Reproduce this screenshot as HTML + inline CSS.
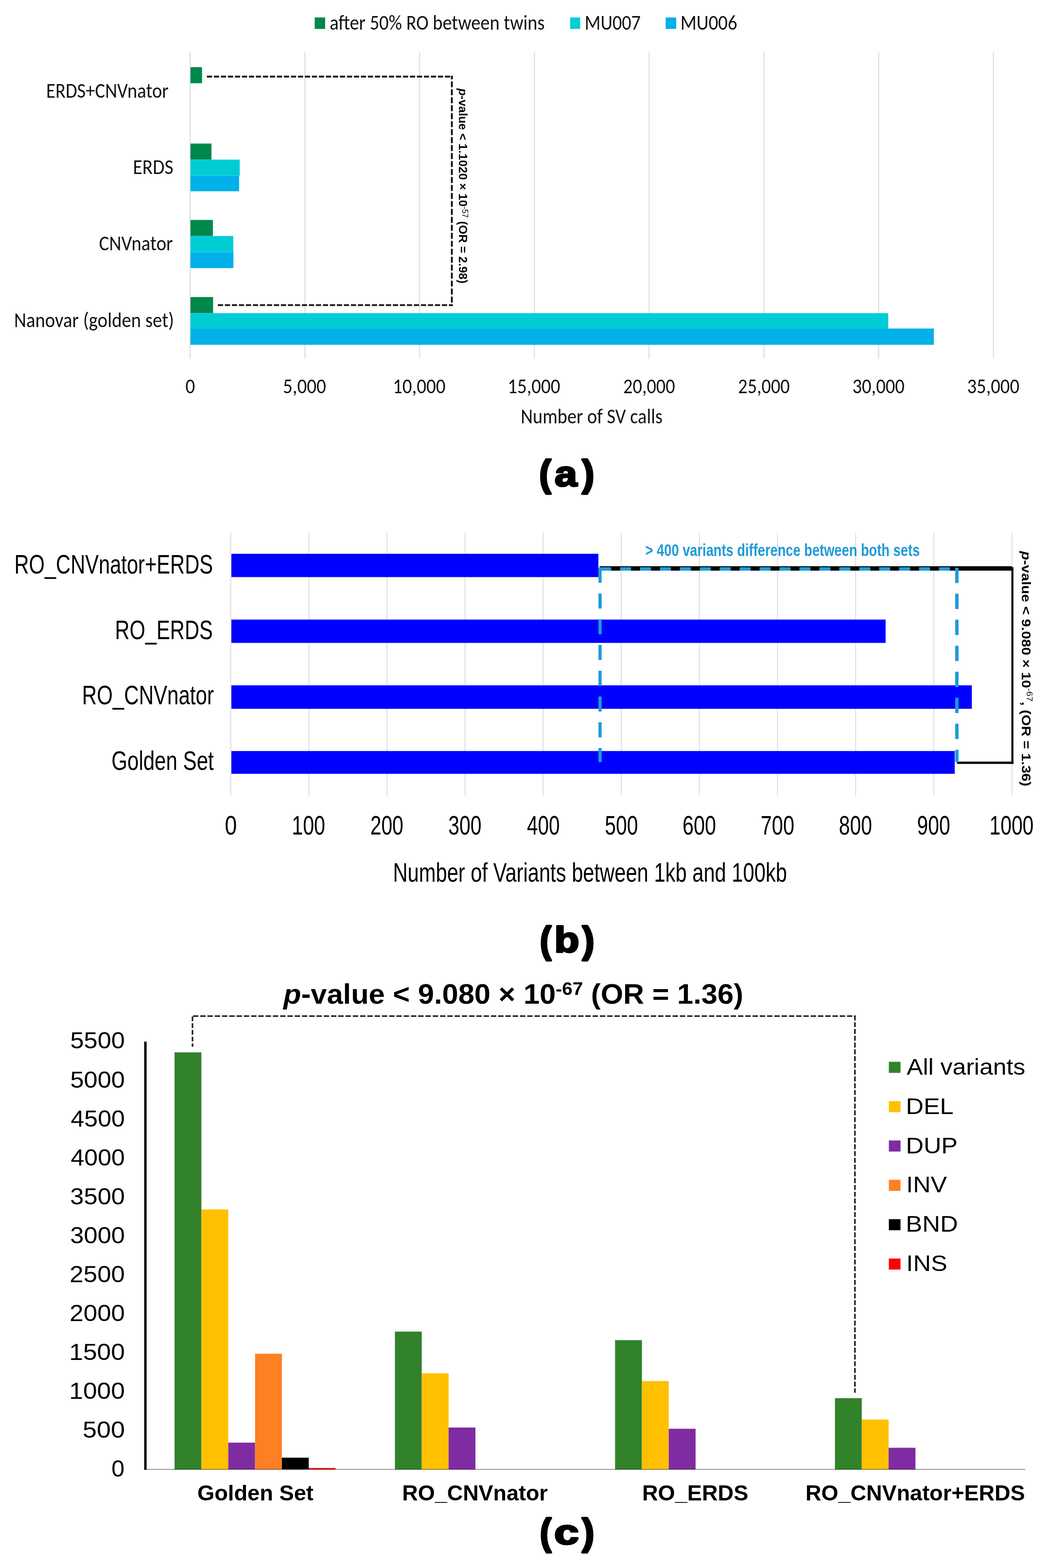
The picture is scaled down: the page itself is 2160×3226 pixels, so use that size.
<!DOCTYPE html><html><head><meta charset="utf-8"><title>SV calls figure</title><style>html,body{margin:0;padding:0;background:#fff}svg{display:block}</style></head><body>
<svg width="2160" height="3226" viewBox="0 0 2160 3226">
<rect width="2160" height="3226" fill="#fff"/>
<g class="s"><line x1="391.10" y1="107.00" x2="391.10" y2="738.30" stroke="#DEDEDE" stroke-width="2.20" stroke-linecap="butt"/>
<line x1="627.18" y1="107.00" x2="627.18" y2="738.30" stroke="#DEDEDE" stroke-width="2.20" stroke-linecap="butt"/>
<line x1="863.26" y1="107.00" x2="863.26" y2="738.30" stroke="#DEDEDE" stroke-width="2.20" stroke-linecap="butt"/>
<line x1="1099.34" y1="107.00" x2="1099.34" y2="738.30" stroke="#DEDEDE" stroke-width="2.20" stroke-linecap="butt"/>
<line x1="1335.42" y1="107.00" x2="1335.42" y2="738.30" stroke="#DEDEDE" stroke-width="2.20" stroke-linecap="butt"/>
<line x1="1571.50" y1="107.00" x2="1571.50" y2="738.30" stroke="#DEDEDE" stroke-width="2.20" stroke-linecap="butt"/>
<line x1="1807.58" y1="107.00" x2="1807.58" y2="738.30" stroke="#DEDEDE" stroke-width="2.20" stroke-linecap="butt"/>
<line x1="2043.66" y1="107.00" x2="2043.66" y2="738.30" stroke="#DEDEDE" stroke-width="2.20" stroke-linecap="butt"/>
<rect x="647.40" y="35.90" width="21.40" height="23.60" fill="#00884B"/>
<rect x="1173.00" y="35.90" width="20.50" height="23.60" fill="#00CCD5"/>
<rect x="1369.40" y="35.90" width="21.70" height="23.60" fill="#00B0E8"/>
<rect x="391.80" y="138.20" width="23.80" height="33.10" fill="#00884B"/>
<rect x="391.80" y="295.40" width="43.20" height="33.00" fill="#00884B"/>
<rect x="391.80" y="328.40" width="101.40" height="33.10" fill="#00CCD5"/>
<rect x="391.80" y="361.50" width="100.10" height="32.00" fill="#00B0E8"/>
<rect x="391.80" y="452.50" width="46.10" height="33.10" fill="#00884B"/>
<rect x="391.80" y="485.60" width="88.10" height="32.90" fill="#00CCD5"/>
<rect x="391.80" y="518.50" width="88.40" height="33.10" fill="#00B0E8"/>
<rect x="391.80" y="611.20" width="46.60" height="33.10" fill="#00884B"/>
<rect x="391.80" y="644.30" width="1435.50" height="31.60" fill="#00CCD5"/>
<rect x="391.80" y="675.90" width="1529.30" height="33.50" fill="#00B0E8"/>
<line x1="425.60" y1="157.60" x2="931.40" y2="157.60" stroke="#111" stroke-width="3.60" stroke-linecap="butt" stroke-dasharray="10.8 3.6"/>
<line x1="929.50" y1="155.80" x2="929.50" y2="629.50" stroke="#111" stroke-width="3.80" stroke-linecap="butt" stroke-dasharray="12.2 4.2" stroke-dashoffset="4.80"/>
<line x1="448.20" y1="627.70" x2="931.40" y2="627.70" stroke="#111" stroke-width="3.60" stroke-linecap="butt" stroke-dasharray="10.8 3.6"/>
<line x1="474.70" y1="1096.00" x2="474.70" y2="1636.80" stroke="#DEDEDE" stroke-width="2.00" stroke-linecap="butt"/>
<line x1="635.38" y1="1096.00" x2="635.38" y2="1636.80" stroke="#DEDEDE" stroke-width="2.00" stroke-linecap="butt"/>
<line x1="796.06" y1="1096.00" x2="796.06" y2="1636.80" stroke="#DEDEDE" stroke-width="2.00" stroke-linecap="butt"/>
<line x1="956.74" y1="1096.00" x2="956.74" y2="1636.80" stroke="#DEDEDE" stroke-width="2.00" stroke-linecap="butt"/>
<line x1="1117.42" y1="1096.00" x2="1117.42" y2="1636.80" stroke="#DEDEDE" stroke-width="2.00" stroke-linecap="butt"/>
<line x1="1278.10" y1="1096.00" x2="1278.10" y2="1636.80" stroke="#DEDEDE" stroke-width="2.00" stroke-linecap="butt"/>
<line x1="1438.78" y1="1096.00" x2="1438.78" y2="1636.80" stroke="#DEDEDE" stroke-width="2.00" stroke-linecap="butt"/>
<line x1="1599.46" y1="1096.00" x2="1599.46" y2="1636.80" stroke="#DEDEDE" stroke-width="2.00" stroke-linecap="butt"/>
<line x1="1760.14" y1="1096.00" x2="1760.14" y2="1636.80" stroke="#DEDEDE" stroke-width="2.00" stroke-linecap="butt"/>
<line x1="1920.82" y1="1096.00" x2="1920.82" y2="1636.80" stroke="#DEDEDE" stroke-width="2.00" stroke-linecap="butt"/>
<line x1="2081.50" y1="1096.00" x2="2081.50" y2="1636.80" stroke="#DEDEDE" stroke-width="2.00" stroke-linecap="butt"/>
<rect x="476.00" y="1139.40" width="755.00" height="47.90" fill="#0000FF"/>
<rect x="476.00" y="1274.70" width="1345.80" height="48.00" fill="#0000FF"/>
<rect x="476.00" y="1410.00" width="1523.20" height="48.30" fill="#0000FF"/>
<rect x="476.00" y="1545.20" width="1488.00" height="46.80" fill="#0000FF"/>
<rect x="1233.50" y="1165.00" width="848.50" height="9.00" fill="#000"/>
<rect x="2080.50" y="1167.00" width="4.30" height="404.70" fill="#111"/>
<rect x="1968.70" y="1566.90" width="116.10" height="4.80" fill="#000"/>
<line x1="1234.50" y1="1170.50" x2="1968.50" y2="1170.50" stroke="#1F9BD7" stroke-width="7.20" stroke-linecap="butt" stroke-dasharray="22.8 18.2"/>
<line x1="1234.40" y1="1168.00" x2="1234.40" y2="1568.00" stroke="#1F9BD7" stroke-width="6.60" stroke-linecap="butt" stroke-dasharray="31 22"/>
<line x1="1968.40" y1="1168.00" x2="1968.40" y2="1568.00" stroke="#1F9BD7" stroke-width="7.00" stroke-linecap="butt" stroke-dasharray="31.5 22"/>
<rect x="296.60" y="2143.00" width="5.00" height="881.00" fill="#000"/>
<rect x="359.10" y="2165.10" width="55.20" height="858.20" fill="#31822B"/>
<rect x="414.30" y="2488.30" width="55.20" height="535.00" fill="#FFC000"/>
<rect x="469.50" y="2968.10" width="55.20" height="55.20" fill="#7F2BA2"/>
<rect x="524.70" y="2785.20" width="55.20" height="238.10" fill="#FE7F24"/>
<rect x="579.90" y="2999.00" width="55.20" height="24.30" fill="#000000"/>
<rect x="635.10" y="3020.30" width="55.20" height="3.00" fill="#FF0000"/>
<rect x="812.40" y="2739.60" width="55.20" height="283.70" fill="#31822B"/>
<rect x="867.60" y="2825.40" width="55.20" height="197.90" fill="#FFC000"/>
<rect x="922.80" y="2937.00" width="55.20" height="86.30" fill="#7F2BA2"/>
<rect x="1265.30" y="2757.20" width="55.20" height="266.10" fill="#31822B"/>
<rect x="1320.50" y="2841.40" width="55.20" height="181.90" fill="#FFC000"/>
<rect x="1375.70" y="2939.50" width="55.20" height="83.80" fill="#7F2BA2"/>
<rect x="1717.60" y="2876.50" width="55.20" height="146.80" fill="#31822B"/>
<rect x="1772.80" y="2920.50" width="55.20" height="102.80" fill="#FFC000"/>
<rect x="1828.00" y="2978.60" width="55.20" height="44.70" fill="#7F2BA2"/>
<line x1="299.00" y1="3023.20" x2="2109.00" y2="3023.20" stroke="rgba(0,0,0,0.35)" stroke-width="2.20" stroke-linecap="butt"/>
<rect x="1828.50" y="2184.50" width="24.00" height="22.80" fill="#31822B"/>
<rect x="1828.50" y="2265.45" width="24.00" height="22.80" fill="#FFC000"/>
<rect x="1828.50" y="2346.40" width="24.00" height="22.80" fill="#7F2BA2"/>
<rect x="1828.50" y="2427.35" width="24.00" height="22.80" fill="#FE7F24"/>
<rect x="1828.50" y="2508.30" width="24.00" height="22.80" fill="#000000"/>
<rect x="1828.50" y="2589.25" width="24.00" height="22.80" fill="#FF0000"/>
<line x1="396.00" y1="2091.50" x2="396.00" y2="2153.50" stroke="#1a1a1a" stroke-width="3.20" stroke-linecap="butt" stroke-dasharray="9.6 4.2"/>
<line x1="394.40" y1="2090.50" x2="1760.30" y2="2090.50" stroke="#1a1a1a" stroke-width="3.20" stroke-linecap="butt" stroke-dasharray="11 3.95" stroke-dashoffset="12.40"/>
<line x1="1758.70" y1="2089.20" x2="1758.70" y2="2865.40" stroke="#1a1a1a" stroke-width="3.20" stroke-linecap="butt" stroke-dasharray="10.2 3.75" stroke-dashoffset="0.00"/></g>
<g><text id="a_leg1" class="t" font-family="Carlito, 'Liberation Sans', sans-serif" font-size="43.00" font-weight="normal" fill="#111"  x="678.15" y="61.00" textLength="442.41" lengthAdjust="spacingAndGlyphs">after 50% RO between twins</text>
<text id="a_leg2" class="t" font-family="Carlito, 'Liberation Sans', sans-serif" font-size="43.00" font-weight="normal" fill="#111"  x="1202.84" y="60.50" textLength="115.12" lengthAdjust="spacingAndGlyphs">MU007</text>
<text id="a_leg3" class="t" font-family="Carlito, 'Liberation Sans', sans-serif" font-size="43.00" font-weight="normal" fill="#111"  x="1399.73" y="60.50" textLength="116.89" lengthAdjust="spacingAndGlyphs">MU006</text>
<text id="a_y0" class="t" font-family="Carlito, 'Liberation Sans', sans-serif" font-size="43.00" font-weight="normal" fill="#111"  x="95.09" y="201.00" textLength="251.70" lengthAdjust="spacingAndGlyphs">ERDS+CNVnator</text>
<text id="a_y1" class="t" font-family="Carlito, 'Liberation Sans', sans-serif" font-size="43.00" font-weight="normal" fill="#111"  x="273.46" y="358.10" textLength="83.10" lengthAdjust="spacingAndGlyphs">ERDS</text>
<text id="a_y2" class="t" font-family="Carlito, 'Liberation Sans', sans-serif" font-size="43.00" font-weight="normal" fill="#111"  x="203.74" y="514.60" textLength="151.88" lengthAdjust="spacingAndGlyphs">CNVnator</text>
<text id="a_y3" class="t" font-family="Carlito, 'Liberation Sans', sans-serif" font-size="43.00" font-weight="normal" fill="#111"  x="28.90" y="673.00" textLength="329.01" lengthAdjust="spacingAndGlyphs">Nanovar (golden set)</text>
<text id="a_x0" class="t" font-family="Carlito, 'Liberation Sans', sans-serif" font-size="43.00" font-weight="normal" fill="#111"  x="381.45" y="809.00" textLength="19.68" lengthAdjust="spacingAndGlyphs">0</text>
<text id="a_x1" class="t" font-family="Carlito, 'Liberation Sans', sans-serif" font-size="43.00" font-weight="normal" fill="#111"  x="582.02" y="809.00" textLength="88.88" lengthAdjust="spacingAndGlyphs">5,000</text>
<text id="a_x2" class="t" font-family="Carlito, 'Liberation Sans', sans-serif" font-size="43.00" font-weight="normal" fill="#111"  x="808.06" y="809.00" textLength="108.38" lengthAdjust="spacingAndGlyphs">10,000</text>
<text id="a_x3" class="t" font-family="Carlito, 'Liberation Sans', sans-serif" font-size="43.00" font-weight="normal" fill="#111"  x="1044.17" y="809.00" textLength="108.39" lengthAdjust="spacingAndGlyphs">15,000</text>
<text id="a_x4" class="t" font-family="Carlito, 'Liberation Sans', sans-serif" font-size="43.00" font-weight="normal" fill="#111"  x="1282.12" y="809.00" textLength="106.53" lengthAdjust="spacingAndGlyphs">20,000</text>
<text id="a_x5" class="t" font-family="Carlito, 'Liberation Sans', sans-serif" font-size="43.00" font-weight="normal" fill="#111"  x="1518.35" y="809.00" textLength="106.40" lengthAdjust="spacingAndGlyphs">25,000</text>
<text id="a_x6" class="t" font-family="Carlito, 'Liberation Sans', sans-serif" font-size="43.00" font-weight="normal" fill="#111"  x="1753.43" y="809.00" textLength="107.47" lengthAdjust="spacingAndGlyphs">30,000</text>
<text id="a_x7" class="t" font-family="Carlito, 'Liberation Sans', sans-serif" font-size="43.00" font-weight="normal" fill="#111"  x="1989.55" y="809.00" textLength="107.45" lengthAdjust="spacingAndGlyphs">35,000</text>
<text id="a_title" class="t" font-family="Carlito, 'Liberation Sans', sans-serif" font-size="43.00" font-weight="normal" fill="#111"  x="1071.33" y="871.20" textLength="291.70" lengthAdjust="spacingAndGlyphs">Number of SV calls</text>
<text id="a_lp" class="t" font-family="'Liberation Sans', Arial, sans-serif" font-size="76.20" font-weight="bold" fill="#000" stroke="#000" stroke-width="4.5" stroke-linejoin="round" x="1109.50" y="1000.00" textLength="23.91" lengthAdjust="spacingAndGlyphs">(</text>
<text id="a_l" class="t" font-family="'Liberation Sans', Arial, sans-serif" font-size="73.50" font-weight="bold" fill="#000" stroke="#000" stroke-width="3.6" stroke-linejoin="round" x="1141.01" y="999.60" textLength="46.33" lengthAdjust="spacingAndGlyphs">a</text>
<text id="a_rp" class="t" font-family="'Liberation Sans', Arial, sans-serif" font-size="76.20" font-weight="bold" fill="#000" stroke="#000" stroke-width="4.5" stroke-linejoin="round" x="1197.56" y="1000.00" textLength="24.77" lengthAdjust="spacingAndGlyphs">)</text>
<text id="a_rot" class="t" font-family="'Liberation Sans', Arial, sans-serif" font-size="24.50" font-weight="bold" fill="#000"  transform="translate(943.60,181.89) rotate(90)" x="0" y="0" textLength="401.43" lengthAdjust="spacingAndGlyphs"><tspan font-style="italic">p</tspan>-value &lt; 1.1020 × 10<tspan font-size="16" font-weight="normal" dy="-7">-57</tspan><tspan dy="7"> (OR = 2.98)</tspan></text>
<text id="b_y0" class="t" font-family="'Liberation Sans', Arial, sans-serif" font-size="55.50" font-weight="normal" fill="#000"  x="29.44" y="1179.80" textLength="408.61" lengthAdjust="spacingAndGlyphs">RO_CNVnator+ERDS</text>
<text id="b_y1" class="t" font-family="'Liberation Sans', Arial, sans-serif" font-size="55.50" font-weight="normal" fill="#000"  x="236.45" y="1315.20" textLength="201.31" lengthAdjust="spacingAndGlyphs">RO_ERDS</text>
<text id="b_y2" class="t" font-family="'Liberation Sans', Arial, sans-serif" font-size="55.50" font-weight="normal" fill="#000"  x="168.76" y="1449.40" textLength="271.20" lengthAdjust="spacingAndGlyphs">RO_CNVnator</text>
<text id="b_y3" class="t" font-family="'Liberation Sans', Arial, sans-serif" font-size="55.50" font-weight="normal" fill="#000"  x="229.28" y="1584.30" textLength="210.45" lengthAdjust="spacingAndGlyphs">Golden Set</text>
<text id="b_x0" class="t" font-family="'Liberation Sans', Arial, sans-serif" font-size="55.50" font-weight="normal" fill="#000"  x="462.42" y="1716.80" textLength="24.78" lengthAdjust="spacingAndGlyphs">0</text>
<text id="b_x1" class="t" font-family="'Liberation Sans', Arial, sans-serif" font-size="55.50" font-weight="normal" fill="#000"  x="600.22" y="1716.80" textLength="68.75" lengthAdjust="spacingAndGlyphs">100</text>
<text id="b_x2" class="t" font-family="'Liberation Sans', Arial, sans-serif" font-size="55.50" font-weight="normal" fill="#000"  x="761.65" y="1716.80" textLength="68.23" lengthAdjust="spacingAndGlyphs">200</text>
<text id="b_x3" class="t" font-family="'Liberation Sans', Arial, sans-serif" font-size="55.50" font-weight="normal" fill="#000"  x="922.31" y="1716.80" textLength="68.22" lengthAdjust="spacingAndGlyphs">300</text>
<text id="b_x4" class="t" font-family="'Liberation Sans', Arial, sans-serif" font-size="55.50" font-weight="normal" fill="#000"  x="1083.97" y="1716.80" textLength="67.48" lengthAdjust="spacingAndGlyphs">400</text>
<text id="b_x5" class="t" font-family="'Liberation Sans', Arial, sans-serif" font-size="55.50" font-weight="normal" fill="#000"  x="1244.16" y="1716.80" textLength="68.22" lengthAdjust="spacingAndGlyphs">500</text>
<text id="b_x6" class="t" font-family="'Liberation Sans', Arial, sans-serif" font-size="55.50" font-weight="normal" fill="#000"  x="1404.07" y="1716.80" textLength="68.99" lengthAdjust="spacingAndGlyphs">600</text>
<text id="b_x7" class="t" font-family="'Liberation Sans', Arial, sans-serif" font-size="55.50" font-weight="normal" fill="#000"  x="1564.71" y="1716.80" textLength="69.30" lengthAdjust="spacingAndGlyphs">700</text>
<text id="b_x8" class="t" font-family="'Liberation Sans', Arial, sans-serif" font-size="55.50" font-weight="normal" fill="#000"  x="1725.67" y="1716.80" textLength="68.22" lengthAdjust="spacingAndGlyphs">800</text>
<text id="b_x9" class="t" font-family="'Liberation Sans', Arial, sans-serif" font-size="55.50" font-weight="normal" fill="#000"  x="1886.61" y="1716.80" textLength="67.94" lengthAdjust="spacingAndGlyphs">900</text>
<text id="b_x10" class="t" font-family="'Liberation Sans', Arial, sans-serif" font-size="55.50" font-weight="normal" fill="#000"  x="2035.52" y="1716.80" textLength="90.77" lengthAdjust="spacingAndGlyphs">1000</text>
<text id="b_title" class="t" font-family="'Liberation Sans', Arial, sans-serif" font-size="55.50" font-weight="normal" fill="#000"  x="808.44" y="1814.00" textLength="810.52" lengthAdjust="spacingAndGlyphs">Number of Variants between 1kb and 100kb</text>
<text id="b_lp" class="t" font-family="'Liberation Sans', Arial, sans-serif" font-size="76.20" font-weight="bold" fill="#000" stroke="#000" stroke-width="4.5" stroke-linejoin="round" x="1110.97" y="1959.80" textLength="22.82" lengthAdjust="spacingAndGlyphs">(</text>
<text id="b_l" class="t" font-family="'Liberation Sans', Arial, sans-serif" font-size="74.50" font-weight="bold" fill="#000" stroke="#000" stroke-width="3.6" stroke-linejoin="round" x="1140.30" y="1959.40" textLength="51.44" lengthAdjust="spacingAndGlyphs">b</text>
<text id="b_rp" class="t" font-family="'Liberation Sans', Arial, sans-serif" font-size="76.20" font-weight="bold" fill="#000" stroke="#000" stroke-width="4.5" stroke-linejoin="round" x="1198.00" y="1959.80" textLength="24.45" lengthAdjust="spacingAndGlyphs">)</text>
<text id="b_note" class="t" font-family="'Liberation Sans', Arial, sans-serif" font-size="35.50" font-weight="bold" fill="#1F9BD7"  x="1327.59" y="1144.20" textLength="564.56" lengthAdjust="spacingAndGlyphs">&gt; 400 variants difference between both sets</text>
<text id="b_rot" class="t" font-family="'Liberation Sans', Arial, sans-serif" font-size="26.50" font-weight="bold" fill="#000"  transform="translate(2101.80,1134.00) rotate(90)" x="0" y="0" textLength="483.75" lengthAdjust="spacingAndGlyphs"><tspan font-style="italic">p</tspan>-value &lt; 9.080 × 10<tspan font-size="17" font-weight="normal" dy="-10">-67</tspan><tspan dy="10">, (OR = 1.36)</tspan></text>
<text id="c_title" class="t" font-family="'Liberation Sans', Arial, sans-serif" font-size="57.00" font-weight="bold" fill="#000"  x="582.96" y="2064.80" textLength="946.08" lengthAdjust="spacingAndGlyphs"><tspan font-style="italic">p</tspan>-value &lt; 9.080 × 10<tspan font-size="37" dy="-18">-67</tspan><tspan dy="18"> (OR = 1.36)</tspan></text>
<text id="c_y0" class="t" font-family="'Liberation Sans', Arial, sans-serif" font-size="48.00" font-weight="normal" fill="#000"  x="229.32" y="3037.70" textLength="26.83" lengthAdjust="spacingAndGlyphs">0</text>
<text id="c_y1" class="t" font-family="'Liberation Sans', Arial, sans-serif" font-size="48.00" font-weight="normal" fill="#000"  x="170.10" y="2957.68" textLength="86.96" lengthAdjust="spacingAndGlyphs">500</text>
<text id="c_y2" class="t" font-family="'Liberation Sans', Arial, sans-serif" font-size="48.00" font-weight="normal" fill="#000"  x="142.22" y="2877.66" textLength="114.76" lengthAdjust="spacingAndGlyphs">1000</text>
<text id="c_y3" class="t" font-family="'Liberation Sans', Arial, sans-serif" font-size="48.00" font-weight="normal" fill="#000"  x="142.22" y="2797.64" textLength="114.76" lengthAdjust="spacingAndGlyphs">1500</text>
<text id="c_y4" class="t" font-family="'Liberation Sans', Arial, sans-serif" font-size="48.00" font-weight="normal" fill="#000"  x="143.36" y="2717.62" textLength="113.59" lengthAdjust="spacingAndGlyphs">2000</text>
<text id="c_y5" class="t" font-family="'Liberation Sans', Arial, sans-serif" font-size="48.00" font-weight="normal" fill="#000"  x="143.36" y="2637.60" textLength="113.59" lengthAdjust="spacingAndGlyphs">2500</text>
<text id="c_y6" class="t" font-family="'Liberation Sans', Arial, sans-serif" font-size="48.00" font-weight="normal" fill="#000"  x="144.39" y="2557.58" textLength="112.52" lengthAdjust="spacingAndGlyphs">3000</text>
<text id="c_y7" class="t" font-family="'Liberation Sans', Arial, sans-serif" font-size="48.00" font-weight="normal" fill="#000"  x="144.39" y="2477.56" textLength="112.52" lengthAdjust="spacingAndGlyphs">3500</text>
<text id="c_y8" class="t" font-family="'Liberation Sans', Arial, sans-serif" font-size="48.00" font-weight="normal" fill="#000"  x="145.49" y="2397.54" textLength="111.41" lengthAdjust="spacingAndGlyphs">4000</text>
<text id="c_y9" class="t" font-family="'Liberation Sans', Arial, sans-serif" font-size="48.00" font-weight="normal" fill="#000"  x="145.49" y="2317.52" textLength="111.41" lengthAdjust="spacingAndGlyphs">4500</text>
<text id="c_y10" class="t" font-family="'Liberation Sans', Arial, sans-serif" font-size="48.00" font-weight="normal" fill="#000"  x="144.40" y="2237.50" textLength="112.52" lengthAdjust="spacingAndGlyphs">5000</text>
<text id="c_y11" class="t" font-family="'Liberation Sans', Arial, sans-serif" font-size="48.00" font-weight="normal" fill="#000"  x="144.40" y="2157.48" textLength="112.52" lengthAdjust="spacingAndGlyphs">5500</text>
<text id="c_leg0" class="t" font-family="'Liberation Sans', Arial, sans-serif" font-size="46.00" font-weight="normal" fill="#000"  x="1865.18" y="2210.90" textLength="244.14" lengthAdjust="spacingAndGlyphs">All variants</text>
<text id="c_leg1" class="t" font-family="'Liberation Sans', Arial, sans-serif" font-size="46.00" font-weight="normal" fill="#000"  x="1863.43" y="2291.70" textLength="98.24" lengthAdjust="spacingAndGlyphs">DEL</text>
<text id="c_leg2" class="t" font-family="'Liberation Sans', Arial, sans-serif" font-size="46.00" font-weight="normal" fill="#000"  x="1863.42" y="2372.50" textLength="106.65" lengthAdjust="spacingAndGlyphs">DUP</text>
<text id="c_leg3" class="t" font-family="'Liberation Sans', Arial, sans-serif" font-size="46.00" font-weight="normal" fill="#000"  x="1864.39" y="2453.30" textLength="83.73" lengthAdjust="spacingAndGlyphs">INV</text>
<text id="c_leg4" class="t" font-family="'Liberation Sans', Arial, sans-serif" font-size="46.00" font-weight="normal" fill="#000"  x="1863.39" y="2534.10" textLength="107.40" lengthAdjust="spacingAndGlyphs">BND</text>
<text id="c_leg5" class="t" font-family="'Liberation Sans', Arial, sans-serif" font-size="46.00" font-weight="normal" fill="#000"  x="1864.36" y="2614.90" textLength="84.48" lengthAdjust="spacingAndGlyphs">INS</text>
<text id="c_x0" class="t" font-family="'Liberation Sans', Arial, sans-serif" font-size="44.50" font-weight="bold" fill="#000"  x="405.97" y="3087.00" textLength="238.94" lengthAdjust="spacingAndGlyphs">Golden Set</text>
<text id="c_x1" class="t" font-family="'Liberation Sans', Arial, sans-serif" font-size="44.50" font-weight="bold" fill="#000"  x="827.37" y="3087.00" textLength="299.44" lengthAdjust="spacingAndGlyphs">RO_CNVnator</text>
<text id="c_x2" class="t" font-family="'Liberation Sans', Arial, sans-serif" font-size="44.50" font-weight="bold" fill="#000"  x="1320.95" y="3087.00" textLength="218.32" lengthAdjust="spacingAndGlyphs">RO_ERDS</text>
<text id="c_x3" class="t" font-family="'Liberation Sans', Arial, sans-serif" font-size="44.50" font-weight="bold" fill="#000"  x="1656.96" y="3087.00" textLength="451.58" lengthAdjust="spacingAndGlyphs">RO_CNVnator+ERDS</text>
<text id="c_lp" class="t" font-family="'Liberation Sans', Arial, sans-serif" font-size="76.20" font-weight="bold" fill="#000" stroke="#000" stroke-width="4.5" stroke-linejoin="round" x="1110.94" y="3177.60" textLength="22.92" lengthAdjust="spacingAndGlyphs">(</text>
<text id="c_l" class="t" font-family="'Liberation Sans', Arial, sans-serif" font-size="72.00" font-weight="bold" fill="#000" stroke="#000" stroke-width="3.6" stroke-linejoin="round" x="1139.97" y="3177.40" textLength="50.86" lengthAdjust="spacingAndGlyphs">c</text>
<text id="c_rp" class="t" font-family="'Liberation Sans', Arial, sans-serif" font-size="76.20" font-weight="bold" fill="#000" stroke="#000" stroke-width="4.5" stroke-linejoin="round" x="1197.47" y="3177.60" textLength="24.74" lengthAdjust="spacingAndGlyphs">)</text></g>
</svg></body></html>
